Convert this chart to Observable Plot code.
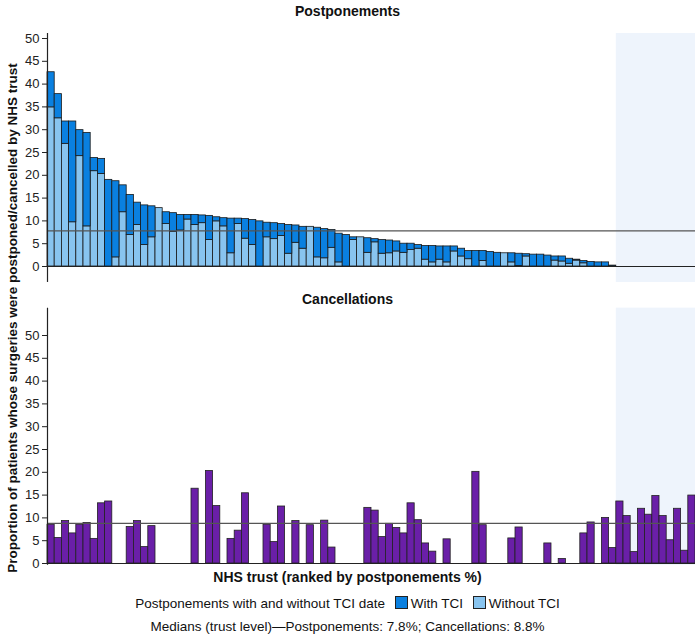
<!DOCTYPE html>
<html><head><meta charset="utf-8">
<script src="https://cdn.jsdelivr.net/npm/d3@7"></script>
<script src="https://cdn.jsdelivr.net/npm/@observablehq/plot@0.6"></script>
<style>
body{margin:0;font-family:"Liberation Sans",Arial,sans-serif;background:#fff;}
#wrap{position:relative;width:695px;height:637px;}
.t{position:absolute;left:0;width:695px;text-align:center;font-weight:bold;font-size:14px;color:#111;}
.p{position:absolute;left:0;}
.yl{position:absolute;left:12px;top:318px;transform:translate(-50%,-50%) rotate(-90deg);white-space:nowrap;font-weight:bold;font-size:13.5px;color:#111;}
.leg{position:absolute;left:0;width:695px;text-align:center;font-size:13.5px;color:#111;}
.sw{display:inline-block;width:11px;height:11px;border:1px solid #222;vertical-align:-1px;margin:0 3px 0 6px;}
</style></head><body>
<div id="wrap">
<div class="t" style="top:3px">Postponements</div>
<div class="t" style="top:291px">Cancellations</div>
<div id="p1" class="p" style="top:0"></div>
<div id="p2" class="p" style="top:285px"></div>
<div class="yl">Proportion of patients whose surgeries were postponed/cancelled by NHS trust</div>
<div class="t" style="top:569px">NHS trust (ranked by postponements %)</div>
<div class="leg" style="top:596px">Postponements with and without TCI date <span class="sw" style="background:#0a80e0"></span>With TCI <span class="sw" style="background:#88c4ef"></span>Without TCI</div>
<div class="leg" style="top:619px">Medians (trust level)—Postponements: 7.8%; Cancellations: 8.8%</div>
</div>
<script>
const postTotal = [42.6,37.8,31.8,31.8,29.9,29.3,23.8,23.6,19.0,18.7,17.8,15.7,14.0,13.4,13.2,12.8,11.9,11.7,11.3,11.3,11.3,11.2,11.1,10.8,10.6,10.5,10.5,10.4,10.2,9.9,9.6,9.5,9.3,9.1,9.0,8.7,8.7,8.5,8.2,8.0,
7.2,6.9,6.4,6.4,6.2,6.0,5.8,5.7,5.5,5.0,5.0,4.7,4.5,4.5,4.4,4.4,4.4,3.9,3.4,3.4,3.4,3.2,3.0,2.9,2.9,2.8,2.7,2.6,2.6,2.4,2.2,2.2,1.7,1.5,1.2,1.0,0.9,0.9,0.2];
const postWithout = [34.9,32.5,26.9,9.7,24.2,8.8,20.9,20.3,0,2.0,11.9,6.9,9.1,4.7,6.4,12.8,9.3,7.6,7.9,10.3,9.1,9.5,5.8,9.9,8.8,2.9,9.3,6.1,4.7,0,6.4,6.0,6.7,2.8,5.2,3.9,8.7,2.0,1.8,4.1,
0.9,0,5.8,6.4,3.0,5.3,2.8,2.9,3.3,3.0,3.6,3.9,1.5,0.9,1.5,0.9,3.3,2.2,1.6,0,1.2,0,0,2.9,0.9,0.1,2.2,0,0,0,1.3,1.1,0.6,1.3,0.7,0,0,0,0];
const cancelIdx = [0,1,2,3,4,5,6,7,8,11,12,13,14,20,22,23,25,26,27,30,31,32,34,36,38,39,44,45,46,47,48,49,50,51,52,53,55,59,60,64,65,69,71,74,75,77,78,79,80,81,82,83,84,85,86,87,88,89];
const cancelVal = [8.5,5.6,9.3,6.6,8.5,8.9,5.4,13.2,13.6,8.0,9.3,3.6,8.2,16.4,20.3,12.6,5.4,7.2,15.4,8.5,4.7,12.5,9.3,8.4,9.4,3.5,12.2,11.6,5.8,8.7,7.8,6.6,13.2,9.5,4.4,2.6,5.3,20.1,8.4,5.5,7.9,4.4,1.0,6.6,9.0,10.0,3.4,13.6,10.4,2.5,12.0,10.7,14.8,10.4,5.1,12.0,2.8,14.9];
const N = 90, nPost = postTotal.length;
const medianPost = 7.8, medianCancel = 8.8;
const yTicks = [0,5,10,15,20,25,30,35,40,45,50];

const post = postTotal.map((t,i)=>({i, t, w: postWithout[i]}));
const canc = cancelIdx.map((i,k)=>({i, v: cancelVal[k]}));
const shade = [{x1:nPost, x2:N}];

function base(marks, h, mt, mb, ytop, ybot){
  return Plot.plot({
    width:695, height:h, marginLeft:47, marginRight:0, marginTop:mt, marginBottom:mb,
    style:{fontFamily:"Liberation Sans, Arial, sans-serif", fontSize:"13px", color:"#222", overflow:"visible"},
    x:{domain:[0,N], axis:null},
    y:{domain:[0,50], ticks:yTicks, tickFormat:d=>d, tickSize:5, label:null, clamp:false},
    marks:[
      Plot.rect(shade,{x1:"x1",x2:"x2",y1:ybot,y2:ytop,fill:"#eef4fc",clip:false}),
      ...marks,
      Plot.ruleX([0],{y1:ybot,y2:ytop,stroke:"#222",strokeWidth:1.2,clip:false}),
      Plot.axisY({ticks:yTicks,tickSize:5,tickPadding:3,tickFormat:d=>d,label:null,fontSize:13})
    ]
  });
}
const top1 = base([
  Plot.rectY(post,{x1:"i",x2:d=>d.i+1,y1:0,y2:"w",fill:"#88c4ef",stroke:"#1a1a1a",strokeWidth:0.8,inset:0}),
  Plot.rectY(post,{x1:"i",x2:d=>d.i+1,y1:"w",y2:"t",fill:"#0a80e0",stroke:"#1a1a1a",strokeWidth:0.8,inset:0}),
  Plot.ruleY([0],{stroke:"#222"}),
  Plot.ruleY([medianPost],{x1:0,x2:N,stroke:"#555",strokeWidth:1.2})
], 285, 38, 19, 51.1, -3.5);
document.getElementById("p1").appendChild(top1);
const bot = base([
  Plot.rectY(canc,{x1:"i",x2:d=>d.i+1,y1:0,y2:"v",fill:"#6a1fa8",stroke:"#222",strokeWidth:0.8,inset:0}),
  Plot.ruleY([0],{stroke:"#222"}),
  Plot.ruleY([medianCancel],{x1:0,x2:N,stroke:"#555",strokeWidth:1.2})
], 285, 50, 7, 56, -0.4);
document.getElementById("p2").appendChild(bot);
</script>
</body></html>
